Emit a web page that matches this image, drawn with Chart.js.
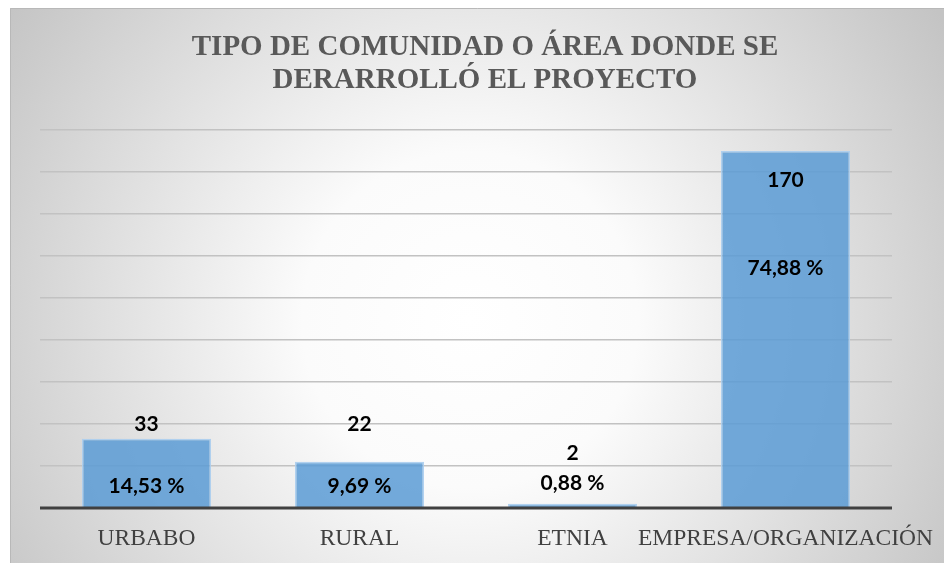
<!DOCTYPE html>
<html>
<head>
<meta charset="utf-8">
<script src="https://cdn.jsdelivr.net/npm/chart.js@4/dist/chart.umd.min.js"></script>
<style>
html,body{margin:0;padding:0;background:#fff;}
#wrap{width:944px;height:563px;position:relative;}
</style>
</head>
<body>
<div id="wrap"><canvas id="c" width="944" height="563"></canvas></div>
<script>
const categories = ['URBABO', 'RURAL', 'ETNIA', 'EMPRESA/ORGANIZACIÓN'];
const counts = [33, 22, 2, 170];
const percentLabels = ['14,53 %', '9,69 %', '0,88 %', '74,88 %'];
const yTicks = [0, 20, 40, 60, 80, 100, 120, 140, 160, 180];
const titleLines = ['TIPO DE COMUNIDAD O ÁREA DONDE SE', 'DERARROLLÓ EL PROYECTO'];

// label placement (in axis units), as positioned in the original chart
const countLabelAt = [39.9, 39.9, 26.1, 156.2];
const percentLabelAt = [10.4, 10.4, 11.9, 114.4];

const SERIF = "Liberation Serif";
Chart.defaults.font.family = SERIF;

const bgPlugin = {
  id: 'bg',
  beforeDraw(chart) {
    const ctx = chart.ctx;
    ctx.save();
    ctx.fillStyle = '#ffffff';
    ctx.fillRect(0, 0, chart.width, chart.height);
    const g = ctx.createRadialGradient(470, 320, 0, 470, 320, 560);
    g.addColorStop(0, '#ffffff');
    g.addColorStop(0.3, '#fbfbfb');
    g.addColorStop(1, '#c4c4c4');
    ctx.fillStyle = g;
    ctx.fillRect(10, 8, chart.width - 10, chart.height - 8);
    ctx.strokeStyle = '#b8b8b8';
    ctx.lineWidth = 1;
    ctx.beginPath();
    ctx.moveTo(10.5, chart.height);
    ctx.lineTo(10.5, 8.5);
    ctx.lineTo(chart.width, 8.5);
    ctx.stroke();
    // title
    ctx.fillStyle = '#595959';
    ctx.font = 'bold 29px "Liberation Serif"';
    ctx.textAlign = 'center';
    ctx.textBaseline = 'middle';
    titleLines.forEach((t, i) => ctx.fillText(t, 485, 48 + i * 33));
    ctx.restore();
  }
};

const labelPlugin = {
  id: 'labels',
  afterDatasetsDraw(chart) {
    const ctx = chart.ctx;
    const y = chart.scales.y;
    const x = chart.scales.x;
    ctx.save();
    ctx.strokeStyle = '#404040';
    ctx.lineWidth = 3;
    const y0 = y.getPixelForValue(0);
    ctx.beginPath();
    ctx.moveTo(chart.chartArea.left, y0);
    ctx.lineTo(chart.chartArea.right, y0);
    ctx.stroke();
    ctx.fillStyle = '#000000';
    ctx.font = 'bold 21px Lato';
    ctx.textAlign = 'center';
    ctx.textBaseline = 'middle';
    counts.forEach((v, i) => {
      const cx = x.getPixelForValue(i);
      ctx.fillText(String(v), cx, y.getPixelForValue(countLabelAt[i]));
      ctx.fillText(percentLabels[i], cx, y.getPixelForValue(percentLabelAt[i]));
    });
    ctx.restore();
  }
};

new Chart(document.getElementById('c'), {
  type: 'bar',
  data: {
    labels: categories,
    datasets: [{
      data: counts,
      backgroundColor: 'rgba(91,155,213,0.85)',
      borderColor: 'rgba(170,205,238,0.9)',
      borderWidth: 1.5,
      barPercentage: 0.606,
      categoryPercentage: 1.0
    }]
  },
  options: {
    responsive: false,
    animation: false,
    layout: { padding: { left: 40, right: 52, top: 130, bottom: 13 } },
    plugins: {
      legend: { display: false },
      tooltip: { enabled: false },
      title: { display: false }
    },
    scales: {
      x: {
        grid: { display: false, drawTicks: false },
        border: { display: false },
        afterFit(scale) {
          scale.height = 42;
          scale.paddingLeft = 0;
          scale.paddingRight = 0;
        },
        ticks: {
          color: '#404040',
          padding: 17,
          font: { family: SERIF, size: 23.5 },
          maxRotation: 0,
          minRotation: 0,
          autoSkip: false
        }
      },
      y: {
        min: 0,
        max: 180,
        afterBuildTicks(scale) { scale.ticks = yTicks.map(v => ({ value: v })); },
        afterFit(scale) { scale.width = 0; },
        ticks: { display: false },
        border: { display: false },
        grid: {
          color: '#c2c2c2',
          lineWidth: 1.5,
          drawTicks: false
        }
      }
    }
  },
  plugins: [bgPlugin, labelPlugin]
});
</script>
</body>
</html>
